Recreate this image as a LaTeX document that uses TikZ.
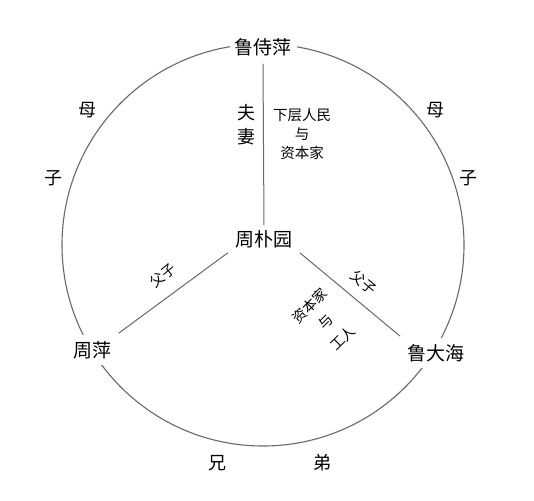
\documentclass[tikz,border=0pt]{standalone}
\usepackage{fontspec}
\newfontfamily\cjk{Noto Sans CJK SC}
\definecolor{linegray}{RGB}{105,105,105}
\tikzset{
  circ/.style={draw=linegray, line width=1.1pt},
  conn/.style={draw=linegray, line width=1pt},
  big/.style={font=\cjk\fontsize{19}{22}\selectfont, text=black, inner sep=4pt},
  mid/.style={font=\cjk\fontsize{18}{20}\selectfont, text=black, inner sep=2pt},
  small/.style={font=\cjk\fontsize{14.5}{19}\selectfont, text=black, inner sep=1pt, align=center},
  tiny/.style={font=\cjk\fontsize{14}{23}\selectfont, text=black, inner sep=0pt, align=center},
  person/.style={big, fill=white, inner xsep=5pt, inner ysep=6pt}
}
\begin{document}
\begin{tikzpicture}[x=1pt,y=-1pt]
\useasboundingbox[fill=white] (0,0) rectangle (534,500);
% outer circle
\coordinate (ctr) at (263,245);
\draw[circ] (ctr) circle[radius=201pt];
% persons
\node[person] (lsp) at (263,47) {鲁侍萍};
\node[person, inner ysep=3pt] (zpy) at (264,239) {周朴园};
\node[person] (zp) at (92,350) {周萍};
\node[person] (ldh) at (436,353) {鲁大海};
% connectors
\draw[conn, shorten <=2pt, shorten >=2pt] (lsp.south) -- (zpy.north);
\draw[conn, shorten <=3pt, shorten >=3pt] (zpy.south west) -- (zp.north east);
\draw[conn, shorten <=3pt, shorten >=3pt] (zpy.south east) -- (ldh.north west);
% relation labels
\node[mid, align=center] (fuqi) at (246,125) {夫\\[4pt]妻};
\node[small] (xcrm) at (302,134) {下层人民\\与\\资本家};
\node[tiny, rotate=40] (fz1) at (163,275) {父子};
\node[tiny, rotate=-40] (fz2) at (364,282) {父子};
\node[tiny, rotate=45] (zbj) at (326,322) {资本家\\与\\工人};
\node[mid] (mu1) at (87,110) {母};
\node[mid] (zi1) at (53,178) {子};
\node[mid] (mu2) at (435,110) {母};
\node[mid] (zi2) at (468,178) {子};
\node[mid] (xiong) at (217,463) {兄};
\node[mid] (di) at (322,463) {弟};
\end{tikzpicture}
\end{document}
